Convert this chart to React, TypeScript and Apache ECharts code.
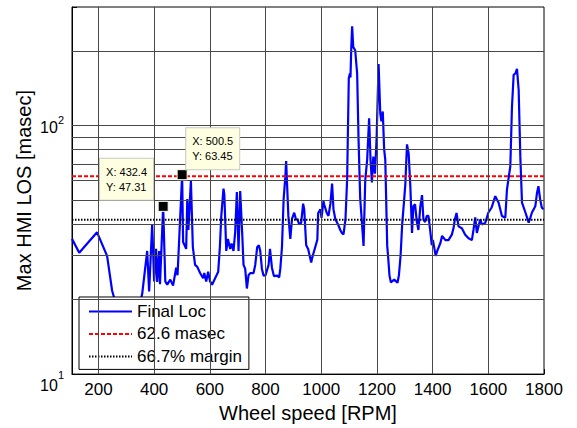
import React, { useEffect, useRef } from 'react';
import * as echarts from 'echarts';

// Wheel speed [RPM]
const rpm = [
  105, 131, 195, 231, 249, 275, 305, 335, 357, 375, 382, 393, 400, 407, 411, 418, 421, 432.4, 440, 447,
  458, 468, 479, 484, 490, 500.5, 504, 515, 519, 523, 532, 539, 547, 555, 565, 576, 580, 587, 594, 601,
  608, 619, 625, 630, 636, 641, 649, 652, 659, 665, 673, 678, 685, 691, 697, 703, 709, 716, 721, 727,
  733, 739, 745, 757, 763, 770, 776, 781, 787, 793, 800, 811, 816, 823, 830, 842, 849, 853, 859, 865,
  871, 874, 882, 889, 895, 903, 910, 914, 921, 928, 935, 939, 946, 953, 964, 968, 986, 989, 997, 1001,
  1008, 1011, 1020, 1026, 1033, 1039, 1044, 1051, 1061, 1068, 1074, 1080, 1087, 1093, 1099, 1103, 1105, 1108, 1111, 1115,
  1122, 1129, 1134, 1140, 1146, 1152, 1158, 1165, 1172, 1177, 1182, 1187, 1193, 1199, 1206, 1212, 1216, 1221, 1226, 1230,
  1237, 1240, 1245, 1250, 1262, 1274, 1279, 1285, 1291, 1297, 1302, 1308, 1314, 1320, 1326, 1331, 1337, 1343, 1349, 1356,
  1362, 1367, 1373, 1379, 1385, 1391, 1397, 1401, 1411, 1417, 1428, 1434, 1446, 1457, 1469, 1475, 1480, 1486, 1493, 1505,
  1517, 1529, 1541, 1547, 1553, 1559, 1565, 1571, 1577, 1589, 1600, 1612, 1625, 1637, 1649, 1661, 1667, 1679, 1685, 1691,
  1697, 1703, 1709, 1715, 1721, 1733, 1745, 1751, 1757, 1763, 1769, 1775, 1780, 1786, 1792, 1798,
];

// Max HMI LOS [masec], Final Loc
const losMs = [
  35, 30.8, 37.2, 29.9, 21.7, 17, 14.5, 16.5, 21, 31.3, 21.5, 40.2, 23.6, 31.9, 23.5, 31.3, 23, 47.31, 23.6, 22.9,
  24.0, 22.7, 26.8, 25, 35, 63.45, 34, 31.9, 50.6, 38, 60, 32.4, 27.5, 27, 25.5, 24.3, 25.5, 23.6, 25.8, 23.6,
  22.9, 24.3, 25.1, 25.8, 32.4, 43.1, 55.8, 53, 31.3, 35, 31.9, 33.5, 31.3, 37.3, 54, 31.3, 54.5, 37.3, 27.5, 26.5,
  22.1, 25, 25.5, 25.5, 27.5, 32.4, 33, 31.3, 26.5, 24.9, 25, 27.5, 31.9, 26.8, 24.8, 24.9, 24.5, 26.5, 32.4, 50.6,
  62, 72, 43.3, 35, 42.1, 44.6, 41.7, 42.1, 40.0, 40.6, 48.5, 46, 33, 31.9, 28.1, 29.5, 34.7, 44.5, 46.0, 42.5,
  49.7, 48, 44.5, 43.3, 48.5, 58.4, 46, 41.9, 39.9, 38.1, 37.0, 36.5, 41.9, 60.5, 155, 162, 156, 207, 251, 207,
  201, 162, 88, 50.8, 41, 32.8, 60, 73, 107, 73, 59, 75, 64, 90, 177, 112, 104, 114, 80, 73,
  32.8, 29.9, 25, 23.4, 24.0, 23.3, 25, 30, 40.6, 49, 58, 84, 77, 57, 37, 47.5, 48.2, 41.2, 38, 47.4,
  52.5, 41.8, 40.9, 43.3, 43.3, 38.1, 33, 34.7, 29.9, 31.4, 33.7, 36, 34.6, 34.6, 36.4, 38.6, 42, 44.5, 39.3, 38.6,
  36.4, 35.2, 34.6, 38.2, 42.7, 37, 39.4, 41.9, 40, 40.6, 44.6, 46.8, 52, 48.9, 43.3, 42.6, 55.3, 68.5, 119, 160,
  162, 169, 139, 75, 49, 44.8, 40.7, 42.6, 44.8, 46, 47.5, 53.7, 57, 50.6, 46.8, 46,
];

const xMin = 105;
const xMax = 1800;
const yMin = 10;
const yMax = 300;
const xTickValues = [200, 400, 600, 800, 1000, 1200, 1400, 1600, 1800];
const xGridValues = [200, 400, 600, 800, 1000, 1200, 1400, 1600];
const yGridValues = [20, 30, 40, 50, 60, 70, 80, 90, 100, 200];
const thresholdMs = 62.6;
const marginMs = 41.75; // 66.7% of 62.6
const tipX = [432.4, 500.5];
const tipY = [47.31, 63.45];

const FONT = 'Arial, "Liberation Sans", Helvetica, sans-serif';

export default function App() {
  const ref = useRef<HTMLDivElement>(null);

  useEffect(() => {
    document.body.style.margin = '0';
    if (!ref.current) return;
    const chart = echarts.init(ref.current, undefined, { renderer: 'svg' });

    const lineData = rpm.map((x, i) => [x, losMs[i]]);

    const tipLabelBase = {
      show: true,
      color: '#000',
      fontSize: 11,
      lineHeight: 15,
      fontFamily: FONT,
      backgroundColor: '#ffffe1',
      borderColor: '#c8c8c0',
      borderWidth: 1,
      padding: [5.5, 6, 5.5, 6],
    };

    const option: any = {
      animation: false,
      backgroundColor: '#ffffff',
      textStyle: { fontFamily: FONT },
      grid: {
        left: 72,
        right: 33,
        top: 7,
        bottom: 52,
        show: true,
        borderColor: '#000',
        borderWidth: 1,
        backgroundColor: '#fff',
      },
      legend: {
        data: ['Final Loc', '62.6 masec', '66.7% margin'],
        orient: 'vertical',
        left: 79,
        top: 297,
        itemWidth: 43,
        itemHeight: 14,
        itemGap: 4.5,
        padding: [5.4, 7, 4, 9],
        backgroundColor: '#fff',
        borderColor: '#000',
        borderWidth: 1,
        borderRadius: 0,
        selectedMode: false,
        itemStyle: { opacity: 0, borderWidth: 0 },
        textStyle: { fontSize: 17, lineHeight: 18, color: '#000', fontFamily: FONT },
      },
      xAxis: {
        type: 'value',
        min: xMin,
        max: xMax,
        name: 'Wheel speed [RPM]',
        nameLocation: 'middle',
        nameGap: 28,
        nameTextStyle: { fontSize: 20, color: '#000', fontFamily: FONT },
        axisLine: { show: true, lineStyle: { color: '#000', width: 1 } },
        axisTick: { show: true, inside: true, length: 5, customValues: xTickValues, lineStyle: { color: '#000' } },
        axisLabel: {
          customValues: xTickValues,
          fontSize: 17,
          color: '#000',
          margin: 7,
          fontFamily: FONT,
          formatter: (v: number) => String(v),
        },
        splitLine: { show: false },
      },
      yAxis: {
        type: 'log',
        logBase: 10,
        min: yMin,
        max: yMax,
        name: 'Max HMI LOS [masec]',
        nameLocation: 'middle',
        nameGap: 38,
        nameMoveOverlap: false,
        nameTextStyle: { fontSize: 20, color: '#000', fontFamily: FONT },
        axisLine: { show: true, lineStyle: { color: '#000', width: 1 } },
        axisTick: { show: true, inside: true, length: 5, lineStyle: { color: '#000' } },
        axisLabel: {
          margin: 8,
          color: '#000',
          formatter: (v: number) => {
            const e = Math.round(Math.log10(v));
            if (Math.abs(v - Math.pow(10, e)) > 1e-6 * v) return '';
            if (e === 1) return '{b1|10}{s1|1}';
            return '{b|10}{s|' + e + '}';
          },
          rich: {
            b: { fontSize: 16, color: '#000', fontFamily: FONT, padding: [3, 0, 0, 0] },
            s: { fontSize: 11, color: '#000', fontFamily: FONT, padding: [0, 0, 12, 0] },
            b1: { fontSize: 16, color: '#000', fontFamily: FONT, padding: [23, 0, 0, 0] },
            s1: { fontSize: 11, color: '#000', fontFamily: FONT, padding: [2, 0, 0, 0] },
          },
        },
        splitLine: { show: false },
      },
      series: [
        {
          name: 'grid',
          type: 'line',
          data: [[xMin, yMin]],
          symbol: 'none',
          silent: true,
          z: 1,
          lineStyle: { opacity: 0 },
          markLine: {
            silent: true,
            symbol: ['none', 'none'],
            label: { show: false },
            lineStyle: { color: '#484848', width: 1, type: 'solid' },
            emphasis: { disabled: true },
            data: [
              ...yGridValues.map((v) => ({ yAxis: v })),
              ...xGridValues.map((v) => ({ xAxis: v })),
            ],
          },
        },
        {
          name: 'Final Loc',
          type: 'line',
          data: lineData,
          symbol: 'none',
          z: 3,
          color: '#0000ff',
          lineStyle: { color: '#0000ff', width: 2.2 },
          markPoint: {
            symbol: 'rect',
            symbolSize: 10,
            itemStyle: { color: '#000', borderColor: '#ffffe1', borderWidth: 1, opacity: 1 },
            data: [
              {
                coord: [tipX[0], tipY[0]],
                label: { ...tipLabelBase, position: [-57.6, -42], formatter: 'X: ' + tipX[0] + '\nY: ' + tipY[0] },
              },
              {
                coord: [tipX[1], tipY[1]],
                label: { ...tipLabelBase, position: [9.6, -41], formatter: 'X: ' + tipX[1] + '\nY: ' + tipY[1] },
              },
            ],
          },
        },
        {
          name: '62.6 masec',
          type: 'line',
          data: [[xMin, thresholdMs], [xMax, thresholdMs]],
          symbol: 'none',
          z: 4,
          color: '#ff0000',
          lineStyle: { color: '#ff0000', width: 2, type: [4, 2] },
        },
        {
          name: '66.7% margin',
          type: 'line',
          data: [[xMin, marginMs], [xMax, marginMs]],
          symbol: 'none',
          z: 4,
          color: '#000',
          lineStyle: { color: '#000', width: 2, type: [1.5, 1.5] },
        },
      ],
    };

    chart.setOption(option);
    return () => chart.dispose();
  }, []);

  return <div ref={ref} style={{ width: 577, height: 428 }} />;
}
